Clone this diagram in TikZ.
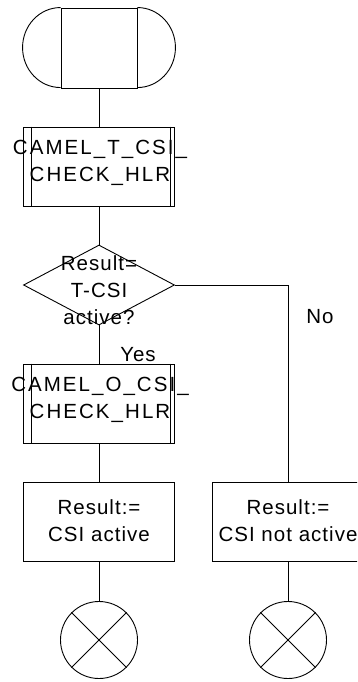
\documentclass[tikz,border=0pt]{standalone}
\usepackage{fontspec}
\setmainfont{Liberation Sans}[LetterSpace=5]
\usetikzlibrary{shapes.geometric,positioning}
\tikzset{
  sdl/.style={draw, line width=0.9pt},
  procbox/.style={sdl, rectangle, minimum width=151pt, minimum height=79pt, inner sep=0pt},
  taskbox/.style={sdl, rectangle, minimum width=151pt, minimum height=79pt, inner sep=0pt},
  decision/.style={sdl, diamond, minimum width=151pt, minimum height=80pt, inner sep=0pt},
  stopsym/.style={sdl, circle, minimum size=77pt, inner sep=0pt},
  lbl/.style={font=\fontsize{20.5}{27}\selectfont, align=center, inner sep=0pt},
  proclbl/.style={lbl, font=\fontsize{20.5}{27}\selectfont\addfontfeature{LetterSpace=10}},
}

\begin{document}
\begin{tikzpicture}[x=1pt, y=-1pt, line width=0.9pt]
    \clip (0,0) rectangle (357,682);

    % start
    \node[sdl, rectangle, minimum width=76pt, minimum height=80pt, inner sep=0pt] (start) at (99,48) {};
    \draw (start.north west) arc (90:270:38pt and 40pt);
    \draw (start.north east) arc (90:-90:38pt and 40pt);

    % CAMEL_T_CSI_CHECK_HLR
    \node[procbox] (tcsi) at (99,166.5) {};
    \draw ([xshift=8pt]tcsi.north west) -- ([xshift=8pt]tcsi.south west);
    \draw ([xshift=-5pt]tcsi.north east) -- ([xshift=-5pt]tcsi.south east);
    \node[proclbl] (tcsitxt) at (100,163) {CAMEL\_T\_CSI\_\\CHECK\_HLR};

    % decision
    \node[decision] (dec) at (99,285) {};
    \node[lbl] (dectxt) at (99,290) {Result=\\T-CSI\\active?};

    % CAMEL_O_CSI_CHECK_HLR
    \node[procbox] (ocsi) at (99,403.5) {};
    \draw ([xshift=8pt]ocsi.north west) -- ([xshift=8pt]ocsi.south west);
    \draw ([xshift=-5pt]ocsi.north east) -- ([xshift=-5pt]ocsi.south east);
    \node[proclbl] (ocsitxt) at (100,400) {CAMEL\_O\_CSI\_\\CHECK\_HLR};

    % results
    \node[taskbox] (act) at (99,521.5) {};
    \node[lbl] (acttxt) at (99,521) {Result:=\\CSI active};
    \node[taskbox, minimum width=152pt] (nact) at (288,521.5) {};
    \node[lbl] (nacttxt) at (288,521) {Result:=\\CSI not active};

    % ends
    \node[stopsym] (end1) at (99,640) {};
    \draw (end1.45) -- (end1.225) (end1.135) -- (end1.315);
    \node[stopsym] (end2) at (288,640) {};
    \draw (end2.45) -- (end2.225) (end2.135) -- (end2.315);

    % connectors
    \draw (start) -- (tcsi);
    \draw (tcsi) -- (dec);
    \draw (dec.south) -- (ocsi.north);
    \draw (dec.east) -| (nact.north);
    \draw (ocsi) -- (act);
    \draw (act) -- (end1);
    \draw (nact) -- (end2);

    \node[lbl] (yes) at (138,355) {Yes};
    \node[lbl] (no) at (320,317) {No};
\end{tikzpicture}
\end{document}
